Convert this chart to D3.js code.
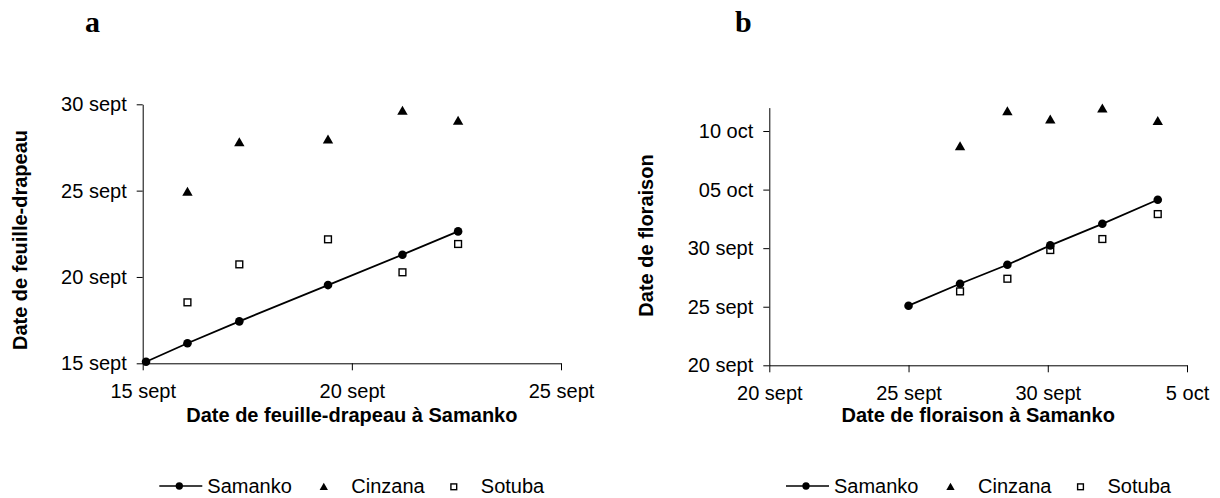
<!DOCTYPE html>
<html>
<head>
<meta charset="utf-8">
<script src="https://cdn.jsdelivr.net/npm/d3@7"></script>
<style>
  html, body { margin: 0; padding: 0; background: #fff; }
  svg { display: block; }
  text { font-family: "Liberation Sans", Arial, sans-serif; fill: #000; }
  .tick text { font-size: 20px; }
  .axis-title { font-size: 20px; font-weight: bold; }
  .panel-letter { font-family: "Liberation Serif", "Times New Roman", serif; font-size: 30px; font-weight: bold; }
  .legend text { font-size: 20px; }
</style>
</head>
<body>
<svg id="chart" width="1220" height="498"></svg>
<script>
// Dates are coded as day numbers counted from 1 September (1 October = 31).

// Panel a: flag-leaf date
const aSamankoX = [15.08, 16.07, 17.31, 19.43, 21.21, 22.54];
const aSamanko  = [15.09, 16.16, 17.43, 19.53, 21.29, 22.64];
const aCinzana  = [null, 24.94, 27.80, 27.97, 29.63, 29.05];
const aSotuba   = [null, 18.53, 20.73, 22.18, 20.27, 21.91];
const aXTicks = [15, 20, 25];
const aXTickLabels = ["15 sept", "20 sept", "25 sept"];
const aYTicks = [15, 20, 25, 30];
const aYTickLabels = ["15 sept", "20 sept", "25 sept", "30 sept"];

// Panel b: flowering date
const bSamankoX = [25.00, 26.85, 28.55, 30.09, 31.96, 33.95];
const bSamanko  = [25.09, 26.96, 28.58, 30.24, 32.08, 34.13];
const bCinzana  = [null, 38.71, 41.70, 40.99, 41.93, 40.87];
const bSotuba   = [null, 26.31, 27.39, 29.84, 30.78, 32.91];
const bXTicks = [20, 25, 30, 35];
const bXTickLabels = ["20 sept", "25 sept", "30 sept", "5 oct"];
const bYTicks = [20, 25, 30, 35, 40];
const bYTickLabels = ["20 sept", "25 sept", "30 sept", "05 oct", "10 oct"];

const seriesNames = ["Samanko", "Cinzana", "Sotuba"];

const svg = d3.select("#chart");

function drawMarker(g, type, x, y, s) {
  if (type === "circle") {
    g.append("circle").attr("cx", x).attr("cy", y).attr("r", 4.3 * s).attr("fill", "#000");
  } else if (type === "triangle") {
    const w = 5.2 * s, h = 9 * s;
    g.append("path")
      .attr("d", `M${x},${y - h * 0.55}L${x + w},${y + h * 0.45}L${x - w},${y + h * 0.45}Z`)
      .attr("fill", "#000");
  } else {
    const a = 3.4 * s;
    g.append("rect").attr("x", x - a).attr("y", y - a).attr("width", 2 * a).attr("height", 2 * a)
      .attr("fill", "#fff").attr("stroke", "#000").attr("stroke-width", 1.4);
  }
}

function panel(cfg) {
  const g = svg.append("g");
  const x = d3.scaleLinear().domain(cfg.xDomain).range(cfg.xRange);
  const y = d3.scaleLinear().domain(cfg.yDomain).range(cfg.yRange);

  const xAxis = d3.axisBottom(x).tickValues(cfg.xTicks)
    .tickFormat((d, i) => cfg.xTickLabels[i]).tickSize(7).tickSizeOuter(0).tickPadding(14);
  const yAxis = d3.axisLeft(y).tickValues(cfg.yTicks)
    .tickFormat((d, i) => cfg.yTickLabels[i]).tickSize(6).tickSizeOuter(0).tickPadding(10);

  const gx = g.append("g").attr("transform", `translate(0,${cfg.yRange[0]})`).call(xAxis);
  const gy = g.append("g").attr("transform", `translate(${cfg.xRange[0]},0)`).call(yAxis);
  [gx, gy].forEach(a => {
    a.attr("font-family", null).attr("font-size", null);
    a.selectAll("path, line").attr("stroke", "#000").attr("stroke-width", 1);
  });

  // Samanko line and points
  const pts = cfg.sx.map((v, i) => [v, cfg.samanko[i]]);
  g.append("path")
    .attr("d", d3.line().x(d => x(d[0])).y(d => y(d[1]))(pts))
    .attr("fill", "none").attr("stroke", "#000").attr("stroke-width", 1.8);

  cfg.sx.forEach((v, i) => {
    if (cfg.sotuba[i] != null) drawMarker(g, "square", x(v), y(cfg.sotuba[i]), 1);
  });
  cfg.sx.forEach((v, i) => {
    if (cfg.cinzana[i] != null) drawMarker(g, "triangle", x(v), y(cfg.cinzana[i]), 1);
  });
  pts.forEach(d => drawMarker(g, "circle", x(d[0]), y(d[1]), 1));

  // Axis titles
  g.append("text").attr("class", "axis-title")
    .attr("x", (cfg.xRange[0] + cfg.xRange[1]) / 2).attr("y", cfg.xTitleY)
    .attr("text-anchor", "middle").text(cfg.xTitle);
  g.append("text").attr("class", "axis-title")
    .attr("transform", `translate(${cfg.yTitleX},${cfg.yTitleCY}) rotate(-90)`)
    .attr("text-anchor", "middle").text(cfg.yTitle);

  // Panel letter
  g.append("text").attr("class", "panel-letter")
    .attr("x", cfg.letterX).attr("y", 32).text(cfg.letter);

  // Legend
  const lg = g.append("g").attr("class", "legend");
  const lx = cfg.legendX, ly = 486;
  lg.append("line").attr("x1", lx).attr("x2", lx + 43).attr("y1", ly).attr("y2", ly)
    .attr("stroke", "#000").attr("stroke-width", 1.3);
  drawMarker(lg, "circle", lx + 20, ly, 0.85);
  lg.append("text").attr("x", lx + 48).attr("y", ly + 6.5).text(seriesNames[0]);
  drawMarker(lg, "triangle", lx + 164.5, ly + 0.8, 0.8);
  lg.append("text").attr("x", lx + 192).attr("y", ly + 6.5).text(seriesNames[1]);
  drawMarker(lg, "square", lx + 294.5, ly + 0.8, 0.85);
  lg.append("text").attr("x", lx + 321.5).attr("y", ly + 6.5).text(seriesNames[2]);
}

panel({
  xDomain: [15, 25], xRange: [142.7, 561],
  yDomain: [15, 30], yRange: [363.3, 104.3],
  xTicks: aXTicks, xTickLabels: aXTickLabels,
  yTicks: aYTicks, yTickLabels: aYTickLabels,
  sx: aSamankoX, samanko: aSamanko, cinzana: aCinzana, sotuba: aSotuba,
  xTitle: "Date de feuille-drapeau à Samanko", xTitleY: 422,
  yTitle: "Date de feuille-drapeau", yTitleX: 26.5, yTitleCY: 240,
  letter: "a", letterX: 85, legendX: 159.3
});

panel({
  xDomain: [20, 35], xRange: [769.3, 1187],
  yDomain: [20, 42], yRange: [365.3, 107.6],
  xTicks: bXTicks, xTickLabels: bXTickLabels,
  yTicks: bYTicks, yTickLabels: bYTickLabels,
  sx: bSamankoX, samanko: bSamanko, cinzana: bCinzana, sotuba: bSotuba,
  xTitle: "Date de floraison à Samanko", xTitleY: 422,
  yTitle: "Date de floraison", yTitleX: 653, yTitleCY: 235.5,
  letter: "b", letterX: 735, legendX: 786
});
</script>
</body>
</html>
